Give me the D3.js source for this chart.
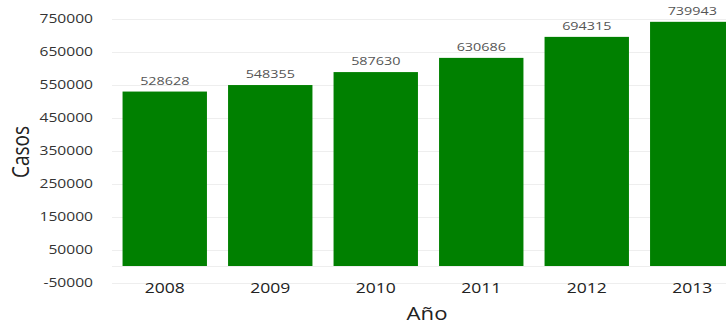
<!DOCTYPE html>
<html><head><meta charset="utf-8">
<script src="https://cdnjs.cloudflare.com/ajax/libs/d3/7.8.5/d3.min.js"></script>
<style>body{margin:0;background:#fff}svg{display:block;font-family:"Open Sans",sans-serif}</style>
</head><body><svg id="c" width="726" height="324"></svg>
<script>
const years = ["2008","2009","2010","2011","2012","2013"];
const casos = [528628,548355,587630,630686,694315,739943];
const yTicks = [-50000,50000,150000,250000,350000,450000,550000,650000,750000];

const svg = d3.select("#c");
const left = 112, right = 745;
const SX = 1.2; // horizontal text stretch seen in reference
const y = d3.scaleLinear().domain([-50000, 750000]).range([282.5, 18.5]);
const x = d3.scaleBand().domain(years).range([left, right]).paddingInner(0.2).paddingOuter(0.1);

// grid
svg.append("g").selectAll("line").data(yTicks.concat([0])).join("line")
  .attr("x1", left).attr("x2", 726)
  .attr("y1", d => Math.round(y(d)) + 0.5).attr("y2", d => Math.round(y(d)) + 0.5)
  .attr("stroke", "#eeeeee").attr("stroke-width", 1);

// y ticks
svg.append("g").selectAll("text").data(yTicks).join("text")
  .attr("transform", d => `translate(93,${y(d)}) scale(${SX},1)`).attr("dy", "0.36em")
  .attr("text-anchor", "end").attr("font-size", 13).attr("fill", "#333")
  .text(d => d);

// bars
svg.append("g").selectAll("rect").data(casos).join("rect")
  .attr("x", (d, i) => x(years[i])).attr("width", x.bandwidth())
  .attr("y", d => y(d)).attr("height", d => y(0) - y(d))
  .attr("fill", "#008000");

// value labels
svg.append("g").selectAll("text").data(casos).join("text")
  .attr("transform", (d, i) => `translate(${x(years[i]) + x.bandwidth() / 2},${y(d) - 7}) scale(1.25,1)`)
  .attr("text-anchor", "middle").attr("font-size", 11.5).attr("fill", "#555")
  .text(d => d);

// x ticks
svg.append("g").selectAll("text").data(years).join("text")
  .attr("transform", d => `translate(${x(d) + x.bandwidth() / 2},293) scale(1.17,1)`)
  .attr("text-anchor", "middle").attr("font-size", 15).attr("fill", "#222")
  .text(d => d);

svg.append("text").attr("transform", "translate(427,320) scale(1.23,1)")
  .attr("text-anchor", "middle").attr("font-size", 18).attr("fill", "#222").text("Año");
svg.append("text").attr("transform", `translate(29,152) scale(${SX},1) rotate(-90)`)
  .attr("text-anchor", "middle").attr("font-size", 19).attr("fill", "#222").text("Casos");
</script></body></html>
